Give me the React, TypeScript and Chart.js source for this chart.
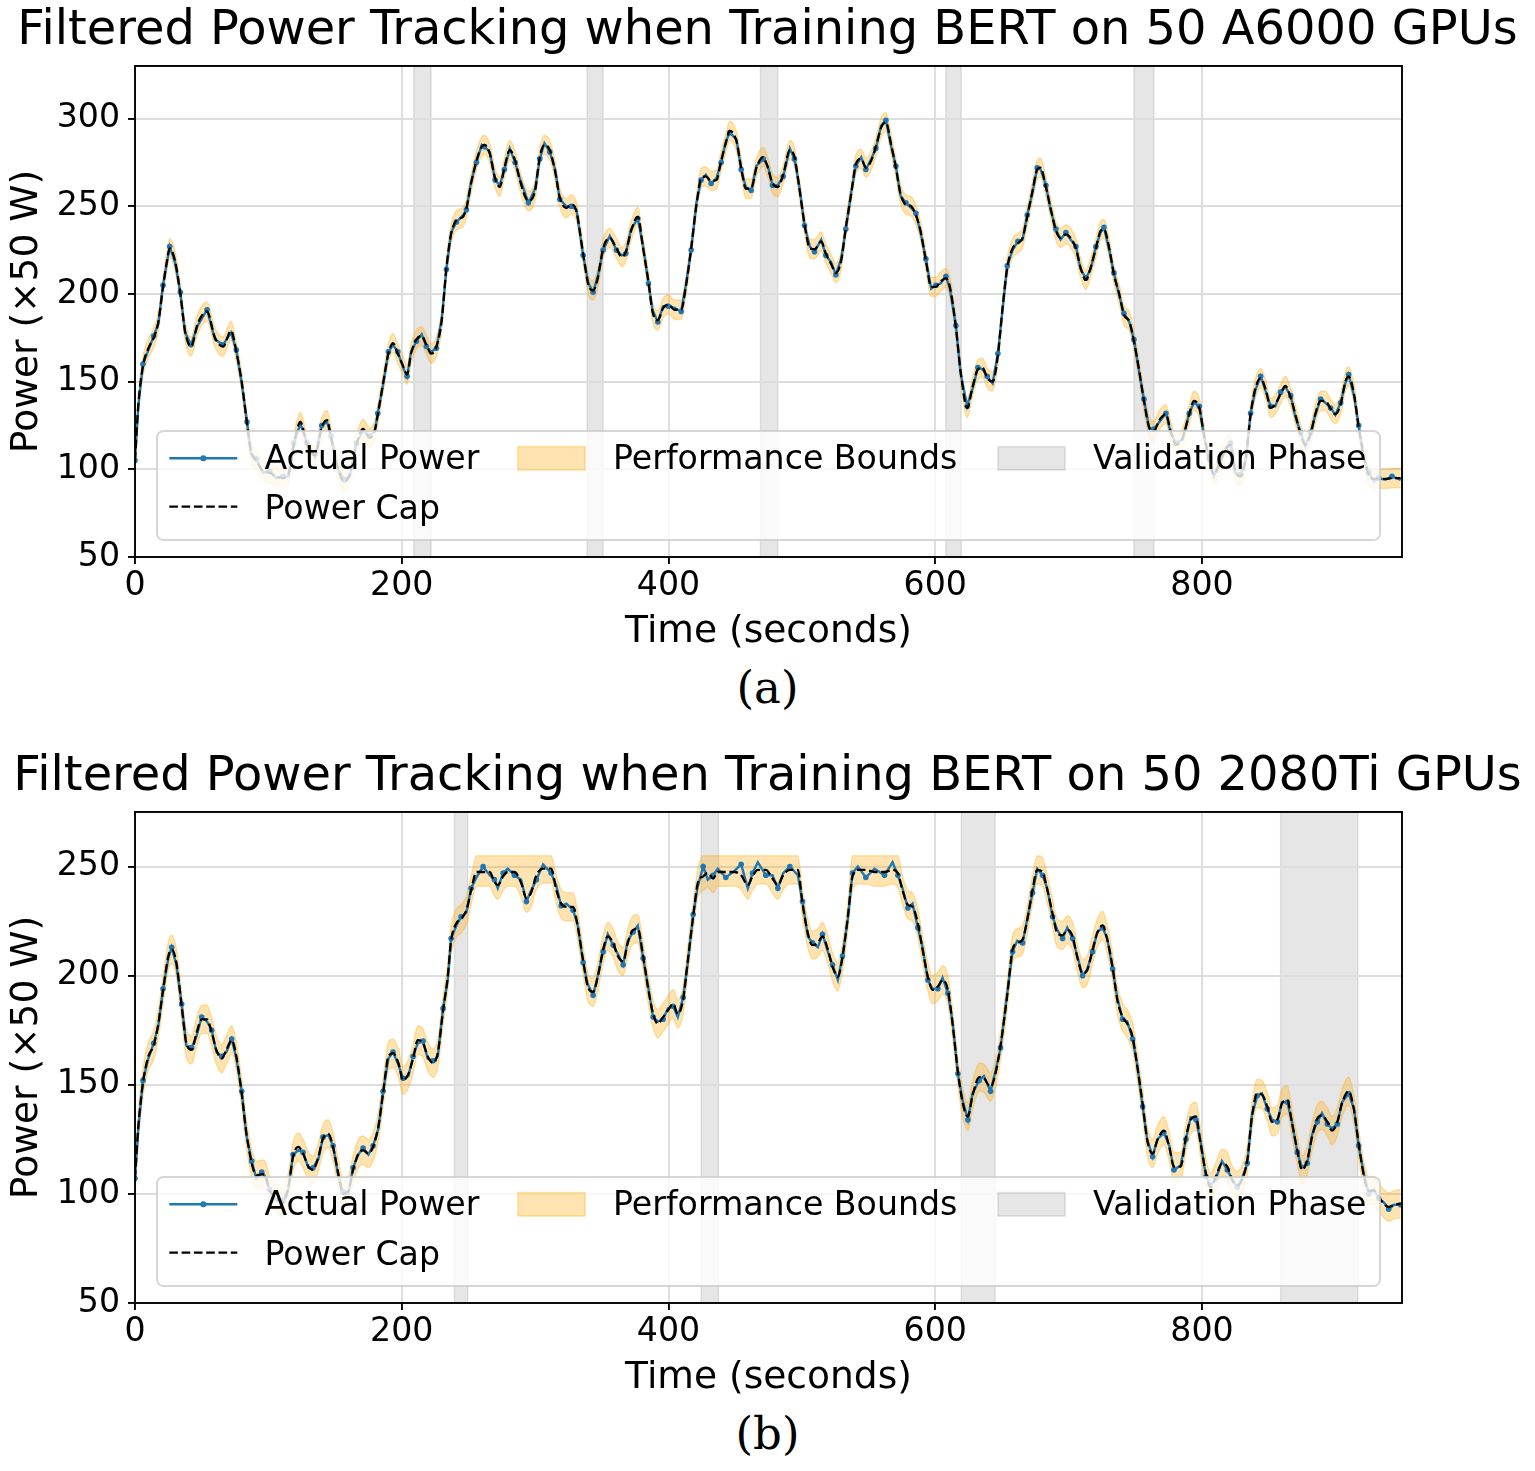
import React, { useEffect, useRef } from "react";
import { Chart, registerables } from "chart.js";

Chart.register(...registerables);

// ---------- text ----------
const TITLE_A = "Filtered Power Tracking when Training BERT on 50 A6000 GPUs";
const TITLE_B = "Filtered Power Tracking when Training BERT on 50 2080Ti GPUs";
const X_LABEL = "Time (seconds)";
const Y_LABEL = "Power (×50 W)";
const LEGEND_LABELS = ["Actual Power", "Power Cap", "Performance Bounds", "Validation Phase"];
const CAPTIONS = ["(a)", "(b)"];

// ---------- ticks / ranges ----------
const X_TICKS = [0, 200, 400, 600, 800];
const X_RANGE = [0, 950];
const Y_TICKS_A = [50, 100, 150, 200, 250, 300];
const Y_RANGE_A = [50, 330];
const Y_TICKS_B = [50, 100, 150, 200, 250];
const Y_RANGE_B = [50, 275];

// ---------- chart (a): A6000 ----------
const A_TIME = [0,2.5,6,10,14,17.5,21,24,26,30,
  34,37.5,42,47,54,60,66,72,76,80,
  84,87,91,96,101,106,111,115,119,124,
  129,135,140,144,147,152,157,161,166,171,
  176,180,182,186,190,193.5,197,201,204,207,
  211,215,218.5,222,226,230,233.5,237,241,246,
  248.5,252,256,260,262,266,270,273.5,277,281,
  285,288.5,295,300,303.5,307,311,315,318.5,323.5,
  327,331,336,340,343.5,347,351,356,361,365,
  368,372,377,381,385,388,392,396,400,404.5,
  409.5,413,417,421,424.5,428,432,436,439.5,443,
  446,451,454.5,458,462,466,471,474.5,478,482,
  486,491,494.5,498,502,506,509.5,514.5,518,522,
  525.5,529.5,533,537,540.5,544.5,548,552,555.5,559.5,
  563,567,570.5,574,578,582,585.5,589,593,597,
  600.5,604,608,611,615.5,619,624,628,632,635.5,
  639,643,647,650.5,654,658,662,665.5,669,673,
  676.5,679,683,686.5,690.5,694,698,701.5,705.5,709,
  713,716.5,720.5,724,726.5,730.5,734,738,741.5,745.5,
  749,753,756.5,760.5,764,768,773,776.5,780.5,785.5,
  790.5,794,798,801.5,805.5,809,813,818,821.5,825,
  829,833,836.5,840,844,848,851.5,855,859,862.5,
  866.5,870,874,877.5,881.5,885,889,892.5,896.5,900,
  904,907.5,910,914,917.5,921.5,925,929,932.5,937.5,
  942.5,949];
const A_CAP = [105,137,159,169,175,184,204,219,226,219,
  200,179,170,183,190,175,170,179,167,150,
  126,110,105,99,98,96,95,97,114,127,
  114,108,124,128,118,101,93,97,114,123,
  118,123,131,149,166,172,166,159,154,166,
  174,176,171,166,170,185,215,234,242,244,
  249,263,276,284,285,280,266,261,272,282,
  276,265,253,259,278,285,282,270,255,249,
  251,247,223,205,202,209,226,232,226,221,
  224,236,244,226,207,190,185,192,194,191,
  191,204,226,251,266,267,264.5,265,276,286,
  293,287,272,260,260,272,278,272,263,261,
  268,282,278,261,240,226,225.5,230,223,217,
  212,219,238,257,274,277,272,276,284,295,
  298,285,272,257,251,250,245,236,219,204,
  204,207,209,204,181,156,135,147,157,158,
  152,150,165,192,215,226,229,232,244,259,
  271,272,261,249,236,232,234,232,226,215,
  208,215,226,236,237,226,211,200,188,184.5,
  173,156,139,124,122,128,131.5,122,114,118,
  131.5,139,135,120,105,97,103,112,114,99,
  96,107,131.5,146,152,145,135,137,143,147.5,
  141,131.5,120,114,120,131.5,139,139,134.5,131.5,
  137,150,153,143,124,107,97,94.5,94.5,94.5,
  95,95];
const A_ACTUAL = [105,136,160,168,176,183,205,218,227,218,
  201,178,171,182,191,174,171,178,168,149,
  127,109,106,98,99,95,96,96,115,126,
  115,107,125,127,119,100,94,96,115,122,
  119,122,132,148,167,171,167,158,153,167,
  173,177,170,167,169,186,214,235,241,245,
  248,264,275,285,284,281,265,262,271,283,
  275,266,252,260,277,286,281,271,254,250,
  250,248,222,206,201,210,225,233,225,222,
  223,237,243,227,206,191,184,193,193,192,
  190,205,225,252,265,268,263,266,275,287,
  292,288,271,261,259,273,277,273,262,262,
  267,283,277,262,239,227,224,231,222,218,
  211,220,237,258,273,278,271,277,283,296,
  299,284,273,256,252,249,246,235,220,203,
  205,206,210,203,182,155,136,146,158,157,
  153,149,166,191,216,225,230,231,245,258,
  272,271,262,248,237,231,235,231,227,214,
  209,214,227,235,238,225,212,199,189,184,
  174,155,140,123,123,127,132,121,115,117,
  132,138,136,119,106,96,104,111,115,98,
  97,106,132,145,153,144,136,136,144,147,
  142,130,121,113,121,131,140,138,135,131,
  138,149,154,142,125,106,98,93,95,94,
  96,94];
const A_MARGIN = 5.5;
const A_VALIDATION = [[209, 222], [339, 351], [469, 482], [608, 619.5], [749, 764]];

// ---------- chart (b): 2080Ti ----------
const B_TIME = [0,2.5,6,10,14,17.5,21,25,27.5,31,
  35,38.5,42.5,46,50,54,57.5,61,65,68.5,
  72.5,76,80,83.5,87.5,91,95,97.5,101,106,
  111,115,118.5,122.5,126,130,133.5,137.5,141,145,
  148.5,152.5,156,160,163.5,167.5,171,175,178.5,182.5,
  186,190,193.5,197.5,201,205,208.5,212,216,219.5,
  223.5,227,231,234.5,237,241,244.5,248.5,252,256,
  261,266,269.5,272,276,279.5,284.5,289.5,293.5,297,
  301,306,312,316,319.5,323.5,328.5,332,336,339.5,
  343.5,347,351,354.5,358.5,362,366,369.5,373.5,377,
  381,384.5,388.5,392,396,399.5,403.5,407,411,414.5,
  418.5,422,426,429.5,433.5,437,443,449.5,454.5,459.5,
  463,467,473,478,482,486,491,497,500.5,504.5,
  508,512,515.5,519.5,523,527,530.5,534.5,538,542,
  548,554.5,562,568,572,575.5,579.5,583,587,590.5,
  594.5,598,602,605.5,609.5,613,617,620.5,624.5,628,
  633,636.5,641.5,645.5,649,654,658,661.5,665.5,669,
  673,676.5,680.5,684,688,691.5,695.5,699,703,706.5,
  710.5,714,718,721.5,725.5,729,733,736.5,740.5,744,
  748,751.5,755.5,759,763,766.5,771.5,775.5,779,784,
  788,791.5,795.5,799,803,806.5,810.5,815,819,822.5,
  826.5,830,834,837.5,841.5,845,849,852.5,856.5,860,
  864,867.5,871.5,875,879,882.5,886.5,890,894,897.5,
  901.5,905,910,914,917.5,921.5,925,929,932.5,936.5,
  940,944,949];
const B_CAP = [107,131,151,163,168,178,193,209,212,206,
  186,169,166,173.5,180,180,174,166,162,166,
  170.5,163,146,128,114,108.5,109,108.5,101.5,98,
  96,103,117,121.5,118.5,112.5,111,117,125.5,127.5,
  121.5,109,100,101.5,111,118.5,120,118.5,121.5,131,
  146,163,164.5,160,152,155,162,170.5,169,163,
  160,164.5,184,199.5,216,224,226,230,239,247.5,
  247.5,247.5,243,241.5,245.5,247.5,247.5,242.5,235.5,238,
  246,249,249,239,233,231.5,231.5,222.5,207,195,
  192.5,199.5,212,218,215,209,206.5,215,221,221.5,
  209,195,182.5,178,181,184,187,182.5,189,207,
  227,242.5,245.5,247,244.5,247.5,247.5,247.5,246,241.5,
  245.5,248.5,248.5,244.5,241.5,246,248.5,248.5,233,219.5,
  214,215,218,212,204,199.5,208.5,227,245.5,248.5,
  248.5,247.5,247.5,248.5,247,239,232.5,231.5,224,212,
  199.5,193.5,195,198,193.5,178,156,142,135.5,145,
  153.5,153,149,156,168,191,212,215,216.5,225.5,
  239.5,248.5,247.5,239.5,228.5,219.5,218.5,221,218,208.5,
  201,202.5,212,219.5,223,216.5,204,189,181,178,
  172,158.5,141.5,124.5,118.5,124.5,129,121.5,112.5,112.5,
  126,134,135.5,123,109.5,103,108,114,112.5,106.5,
  104,106.5,115.5,135.5,146,145.5,140,133,134,141.5,
  143,132.5,120,111,115.5,126,134.5,136,133,129,
  133,141.5,147,138.5,123,108,101.5,101.5,98.5,95.5,
  94,95,95.5];
const B_ACTUAL = [107,130,152,162,169,177,194,208,213,205,
  187,168,167,172,181,179,175,165,163,165,
  171,162,147,127,115,107,110,108,102,97,
  97,102,118,120,119,112,112,116,126,127,
  122,108,101,100,112,118,121,118,122,130,
  147,162,165,159,153,154,163,169,170,162,
  161,163,185,198,217,223,227,229,240,245,
  250,246,244,240,247,249,246,244,234,239,
  244,251,247,241,232,233,230,223,206,196,
  191,200,211,219,214,210,205,216,220,223,
  208,196,181,179,180,185,186,181,190,206,
  228,241,250,244,246,249,245,248,251,240,
  247,252,246,246,240,247,250,246,234,218,
  215,213,219,211,205,198,209,226,247,250,
  245,249,246,252,246,240,231,233,222,213,
  198,194,194,199,192,179,155,143,134,146,
  152,154,147,157,167,192,211,216,215,226,
  238,249,246,240,227,221,217,222,217,209,
  200,203,211,220,222,217,203,190,180,179,
  171,159,140,125,117,125,128,122,111,113,
  125,135,134,124,108,104,107,115,111,107,
  103,107,114,136,145,146,139,134,133,142,
  142,133,119,112,114,127,133,137,132,130,
  132,142,146,139,122,109,100,102,98,96,
  93,95,95];
const B_MARGIN = 6.5;
const B_CEIL = 255;
const B_SATURATED = [[253, 315], [426, 498], [538, 572]];
const B_VALIDATION = [[239.5, 249.5], [424.5, 437.5], [619.5, 645], [859, 917]];

// ---------- styling ----------
const FONT = "'DejaVu Sans', sans-serif";
const BLUE = "#1f77b4";
const ORANGE_FILL = "rgba(255,165,0,0.3)";
const GRAY_FILL = "rgba(128,128,128,0.2)";
const GRID = "#dddddd";
const TITLE_SIZE = 47.9;
const LABEL_SIZE = 37.6;
const TICK_SIZE = 33.2;

const pts = (t: number[], v: number[]) => v.map((y, i) => ({ x: t[i], y }));

function legendAndFramePlugin(bands: number[][]) {
  return {
    id: "bandsLegendFrame",
    beforeDraw(chart: any) {
      const { ctx, chartArea, scales } = chart;
      const xs = scales.x;
      ctx.save();
      ctx.beginPath();
      ctx.rect(chartArea.left, chartArea.top, chartArea.right - chartArea.left, chartArea.bottom - chartArea.top);
      ctx.clip();
      ctx.fillStyle = GRAY_FILL;
      ctx.strokeStyle = GRAY_FILL;
      ctx.lineWidth = 1.5;
      for (const [s, e] of bands) {
        const x0 = xs.getPixelForValue(s);
        const x1 = xs.getPixelForValue(e);
        ctx.fillRect(x0, chartArea.top, x1 - x0, chartArea.bottom - chartArea.top);
        ctx.strokeRect(x0, chartArea.top, x1 - x0, chartArea.bottom - chartArea.top);
      }
      ctx.restore();
    },
    afterDatasetsDraw(chart: any) {
      const { ctx, chartArea } = chart;
      const { left, top, right, bottom } = chartArea;
      ctx.save();
      // frame (spines)
      ctx.strokeStyle = "#000";
      ctx.lineWidth = 1.9;
      ctx.strokeRect(left, top, right - left, bottom - top);

      // legend box
      const bx = left + 22, by = top + 365;
      const bw = right - 22 - bx, bh = bottom - 17 - by;
      ctx.beginPath();
      ctx.roundRect(bx, by, bw, bh, 6.5);
      ctx.fillStyle = "rgba(255,255,255,0.8)";
      ctx.fill();
      ctx.strokeStyle = "rgba(204,204,204,0.8)";
      ctx.lineWidth = 2;
      ctx.stroke();

      const r1 = top + 392.3, r2 = top + 440.7;
      // Actual Power handle
      ctx.strokeStyle = BLUE;
      ctx.lineWidth = 2.5;
      ctx.beginPath();
      ctx.moveTo(left + 34.3, r1);
      ctx.lineTo(left + 102.3, r1);
      ctx.stroke();
      ctx.fillStyle = BLUE;
      ctx.beginPath();
      ctx.arc(left + 68.3, r1, 3, 0, Math.PI * 2);
      ctx.fill();
      // Power Cap handle
      ctx.strokeStyle = "#000";
      ctx.lineWidth = 2.3;
      ctx.setLineDash([8.6, 3.7]);
      ctx.beginPath();
      ctx.moveTo(left + 34.3, r2);
      ctx.lineTo(left + 102.3, r2);
      ctx.stroke();
      ctx.setLineDash([]);
      // Performance bounds patch
      ctx.fillStyle = ORANGE_FILL;
      ctx.strokeStyle = ORANGE_FILL;
      ctx.lineWidth = 1.8;
      ctx.fillRect(left + 383, top + 380.7, 67, 23.3);
      ctx.strokeRect(left + 383, top + 380.7, 67, 23.3);
      // Validation patch
      ctx.fillStyle = GRAY_FILL;
      ctx.strokeStyle = GRAY_FILL;
      ctx.fillRect(left + 863, top + 380.7, 67, 23.3);
      ctx.strokeRect(left + 863, top + 380.7, 67, 23.3);

      ctx.fillStyle = "#000";
      ctx.font = `${TICK_SIZE}px ${FONT}`;
      ctx.textBaseline = "alphabetic";
      ctx.textAlign = "left";
      ctx.fillText(LEGEND_LABELS[0], left + 129.5, top + 403.5);
      ctx.fillText(LEGEND_LABELS[1], left + 129.5, top + 453.2);
      ctx.fillText(LEGEND_LABELS[2], left + 478, top + 403.5);
      ctx.fillText(LEGEND_LABELS[3], left + 958, top + 403.5);
      ctx.restore();
    },
  };
}

function makeConfig(opts: {
  title: string;
  time: number[];
  cap: number[];
  actual: number[];
  lower: number[];
  upper: number[];
  yTicks: number[];
  yRange: number[];
  bands: number[][];
}): any {
  const tickFont = { family: FONT, size: TICK_SIZE };
  const labelFont = { family: FONT, size: LABEL_SIZE };
  return {
    type: "line",
    data: {
      datasets: [
        {
          label: "lower",
          data: pts(opts.time, opts.lower),
          borderColor: ORANGE_FILL,
          borderWidth: 1.5,
          pointRadius: 0,
          fill: false,
          cubicInterpolationMode: "monotone",
          order: 3,
        },
        {
          label: LEGEND_LABELS[2],
          data: pts(opts.time, opts.upper),
          borderColor: ORANGE_FILL,
          backgroundColor: ORANGE_FILL,
          borderWidth: 1.5,
          pointRadius: 0,
          fill: "-1",
          cubicInterpolationMode: "monotone",
          order: 2,
        },
        {
          label: LEGEND_LABELS[0],
          data: pts(opts.time, opts.actual),
          borderColor: BLUE,
          borderWidth: 2.4,
          pointRadius: (c: any) => (c.dataIndex % 2 === 0 ? 2.8 : 0),
          pointBackgroundColor: BLUE,
          pointBorderWidth: 0,
          tension: 0,
          fill: false,
          order: 1,
        },
        {
          label: LEGEND_LABELS[1],
          data: pts(opts.time, opts.cap),
          borderColor: "#000",
          borderWidth: 2.3,
          borderDash: [8.6, 3.7],
          pointRadius: 0,
          fill: false,
          cubicInterpolationMode: "monotone",
          order: 0,
        },
      ],
    },
    options: {
      responsive: false,
      animation: false,
      devicePixelRatio: 1,
      events: [],
      layout: { padding: { left: 0, right: 0, top: 0, bottom: 0 } },
      plugins: {
        legend: { display: false },
        tooltip: { enabled: false },
        title: {
          display: true,
          text: opts.title,
          color: "#000",
          fullSize: true,
          font: { family: FONT, size: TITLE_SIZE, weight: "normal" },
          padding: { top: 3, bottom: 5.5 },
        },
      },
      scales: {
        x: {
          type: "linear",
          min: X_RANGE[0],
          max: X_RANGE[1],
          afterBuildTicks: (s: any) => {
            s.ticks = X_TICKS.map((v) => ({ value: v }));
          },
          afterFit: (s: any) => {
            s.height = 98;
          },
          ticks: {
            color: "#000",
            font: tickFont,
            padding: 2,
            maxRotation: 0,
            autoSkip: false,
            callback: (v: any) => String(v),
          },
          grid: { color: GRID, lineWidth: 1.9, tickLength: 7, tickColor: "#000", tickWidth: 1.9, drawTicks: true },
          border: { display: false },
          title: { display: true, text: X_LABEL, color: "#000", font: labelFont, padding: 0 },
        },
        y: {
          type: "linear",
          position: "left",
          min: opts.yRange[0],
          max: opts.yRange[1],
          afterBuildTicks: (s: any) => {
            s.ticks = opts.yTicks.map((v) => ({ value: v }));
          },
          afterFit: (s: any) => {
            s.width = 135;
          },
          ticks: {
            color: "#000",
            font: tickFont,
            padding: 8,
            autoSkip: false,
            callback: (v: any) => String(v),
          },
          grid: { color: GRID, lineWidth: 1.9, tickLength: 7, tickColor: "#000", tickWidth: 1.9, drawTicks: true },
          border: { display: false },
          title: { display: true, text: Y_LABEL, color: "#000", font: labelFont, padding: { top: 4.5, bottom: 0 } },
        },
        // empty right-hand margin (the figure's right whitespace)
        yMargin: {
          type: "linear",
          position: "right",
          display: true,
          ticks: { display: false },
          grid: { display: false, drawTicks: false },
          border: { display: false },
          title: { display: false },
          afterFit: (s: any) => {
            s.width = 133;
          },
        },
      },
    },
    plugins: [legendAndFramePlugin(opts.bands)],
  };
}

const inWindow = (t: number, wins: number[][]) => wins.some(([s, e]) => t >= s && t <= e);

export default function App() {
  const refA = useRef<HTMLCanvasElement>(null);
  const refB = useRef<HTMLCanvasElement>(null);

  useEffect(() => {
    const aLower = A_CAP.map((c) => c - A_MARGIN);
    const aUpper = A_CAP.map((c) => c + A_MARGIN);
    const bLower = B_CAP.map((c) => c - B_MARGIN);
    const bUpper = B_CAP.map((c, i) => (inWindow(B_TIME[i], B_SATURATED) ? B_CEIL : c + B_MARGIN));

    const chartA = new Chart(
      refA.current as HTMLCanvasElement,
      makeConfig({
        title: TITLE_A,
        time: A_TIME,
        cap: A_CAP,
        actual: A_ACTUAL,
        lower: aLower,
        upper: aUpper,
        yTicks: Y_TICKS_A,
        yRange: Y_RANGE_A,
        bands: A_VALIDATION,
      })
    );
    const chartB = new Chart(
      refB.current as HTMLCanvasElement,
      makeConfig({
        title: TITLE_B,
        time: B_TIME,
        cap: B_CAP,
        actual: B_ACTUAL,
        lower: bLower,
        upper: bUpper,
        yTicks: Y_TICKS_B,
        yRange: Y_RANGE_B,
        bands: B_VALIDATION,
      })
    );
    return () => {
      chartA.destroy();
      chartB.destroy();
    };
  }, []);

  const captionStyle: React.CSSProperties = {
    position: "absolute",
    left: 0,
    width: 1535,
    textAlign: "center",
    fontFamily: "'DejaVu Serif', serif",
    fontSize: 45,
    lineHeight: "45px",
    color: "#000",
  };

  return (
    <div style={{ position: "absolute", left: 0, top: 0, width: 1535, height: 1471, background: "#fff" }}>
      <canvas
        ref={refA}
        width={1535}
        height={655}
        style={{ position: "absolute", left: 0, top: 0, width: 1535, height: 655 }}
      />
      <div style={{ ...captionStyle, top: 665 }}>{CAPTIONS[0]}</div>
      <canvas
        ref={refB}
        width={1535}
        height={655}
        style={{ position: "absolute", left: 0, top: 746, width: 1535, height: 655 }}
      />
      <div style={{ ...captionStyle, top: 1411 }}>{CAPTIONS[1]}</div>
    </div>
  );
}
